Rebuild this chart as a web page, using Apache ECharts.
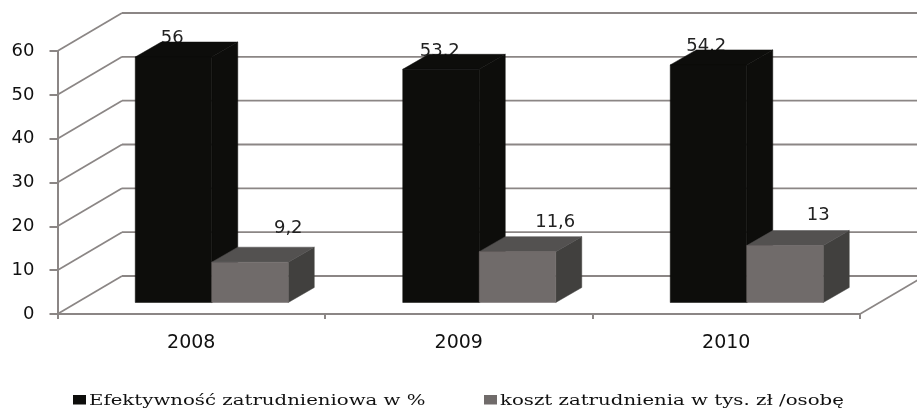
<!DOCTYPE html>
<html>
<head>
<meta charset="utf-8">
<style>html,body{margin:0;padding:0;background:#fff}#c{width:917px;height:408px}</style>
<script src="https://cdn.jsdelivr.net/npm/echarts@6/dist/echarts.min.js"></script>
</head>
<body>
<div id="c"></div>
<script>
const categories = ['2008', '2009', '2010'];
const yTicks = [0, 10, 20, 30, 40, 50, 60];
const efficiency = [56, 53.2, 54.2];
const cost = [9.2, 11.6, 13];
const effName = 'Efektywność zatrudnieniowa w %';
const costName = 'koszt zatrudnienia w tys. zł /osobę';

const WALL = [64.5, -38];
const INSET = [20.5, -11.5];
const DEPTH = [26, -15];
const BAR_RATIO = 0.286;
const LINE = '#8b8685';
const EFF_LABEL_OFFSET = [[-19, -30], [-19, -29], [-20, -30]];
const COST_LABEL_OFFSET = [[97, -45], [96.5, -41], [92, -42]];
const EFF_COLOR = '#0d0d0b';
const COST_COLOR = '#706b6a';

function wallItem(params, api) {
  const v = api.value(1);
  const p = api.coord([0, v]);
  const cs = params.coordSys;
  const left = cs.x, right = cs.x + cs.width;
  const bx = left + WALL[0], by = p[1] + WALL[1];
  const children = [
    {type: 'line', shape: {x1: left, y1: p[1], x2: bx, y2: by}, style: {stroke: LINE, lineWidth: 1.7}},
    {type: 'line', shape: {x1: bx, y1: by, x2: right + WALL[0], y2: by}, style: {stroke: LINE, lineWidth: 1.8}}
  ];
  if (v === 0) {
    children.push({type: 'line', shape: {x1: right, y1: p[1], x2: right + WALL[0], y2: by}, style: {stroke: LINE, lineWidth: 1.7}});
  }
  return {type: 'group', children};
}

function boxItem(side, front, top, dark) {
  return function (params, api) {
    const p = api.coord([api.value(0), api.value(1)]);
    const b = api.coord([api.value(0), 0]);
    const w = api.size([1, 0])[0] * BAR_RATIO;
    const x0 = p[0] + INSET[0] + (side < 0 ? -w : 0);
    const x1 = x0 + w;
    const yt = p[1] + INSET[1], yb = b[1] + INSET[1];
    const dx = DEPTH[0], dy = DEPTH[1];
    const poly = (pts, c) => ({type: 'polygon', shape: {points: pts}, style: {fill: c, stroke: c, lineWidth: 0.5}});
    return {type: 'group', children: [
      poly([[x1, yt], [x1 + dx, yt + dy], [x1 + dx, yb + dy], [x1, yb]], dark),
      poly([[x0, yt], [x0 + dx, yt + dy], [x1 + dx, yt + dy], [x1, yt]], top),
      poly([[x0, yt], [x1, yt], [x1, yb], [x0, yb]], front)
    ]};
  };
}

function labelItem(offsets) {
  return function (params, api) {
    const p = api.coord([api.value(0), api.value(1)]);
    const o = offsets[params.dataIndex];
    return {
      type: 'text',
      style: {
        text: String(api.value(1)).replace('.', ','),
        x: p[0] + o[0], y: p[1] + o[1],
        textAlign: 'center', textVerticalAlign: 'middle',
        font: '18px "DejaVu Sans"', fill: '#222'
      }
    };
  };
}

function legendEntry(x, name, color) {
  return [
    {type: 'rect', x: x, y: 395, shape: {width: 13, height: 9.5}, style: {fill: color}},
    {type: 'text', x: x + 16, y: 401, scaleX: 1.315, style: {
      text: name, font: '15px "DejaVu Serif"', fill: '#111', textVerticalAlign: 'middle'
    }}
  ];
}

const pairs = a => a.map((v, i) => [i, v]);
const chart = echarts.init(document.getElementById('c'));
chart.setOption({
  animation: false,
  backgroundColor: '#fff',
  grid: {left: 57.5, top: 51, width: 802.5, height: 263},
  graphic: [...legendEntry(73, effName, EFF_COLOR), ...legendEntry(484, costName, COST_COLOR)],
  xAxis: {
    type: 'category', data: categories,
    axisLine: {lineStyle: {color: LINE, width: 2}},
    axisTick: {show: true, length: 5, alignWithLabel: false, lineStyle: {color: LINE, width: 2}},
    axisLabel: {fontFamily: '"DejaVu Sans"', fontSize: 19, color: '#111', margin: 20}
  },
  yAxis: {
    type: 'value', min: 0, max: 60, interval: 10,
    axisLine: {show: true, lineStyle: {color: LINE, width: 2}},
    axisTick: {show: true, length: 8, lineStyle: {color: LINE, width: 2}},
    splitLine: {show: false},
    axisLabel: {fontFamily: '"DejaVu Sans"', fontSize: 18, color: '#111', margin: 23, padding: [4, 0, 0, 0]}
  },
  series: [
    {type: 'custom', name: 'wall', silent: true, z: 1, clip: false, data: yTicks.map(v => [0, v]), renderItem: wallItem, encode: {x: 0, y: 1}},
    {type: 'custom', name: 'lab1', silent: true, z: 2, clip: false, data: pairs(efficiency), renderItem: labelItem(EFF_LABEL_OFFSET), encode: {x: 0, y: 1}},
    {type: 'custom', name: 'lab2', silent: true, z: 2, clip: false, data: pairs(cost), renderItem: labelItem(COST_LABEL_OFFSET), encode: {x: 0, y: 1}},
    {type: 'custom', name: effName, silent: true, z: 3, clip: false, itemStyle: {color: EFF_COLOR}, data: pairs(efficiency), renderItem: boxItem(-1, EFF_COLOR, EFF_COLOR, EFF_COLOR), encode: {x: 0, y: 1}},
    {type: 'custom', name: costName, silent: true, z: 4, clip: false, itemStyle: {color: COST_COLOR}, data: pairs(cost), renderItem: boxItem(1, COST_COLOR, '#535150', '#41403e'), encode: {x: 0, y: 1}}
  ]
});
</script>
</body>
</html>
